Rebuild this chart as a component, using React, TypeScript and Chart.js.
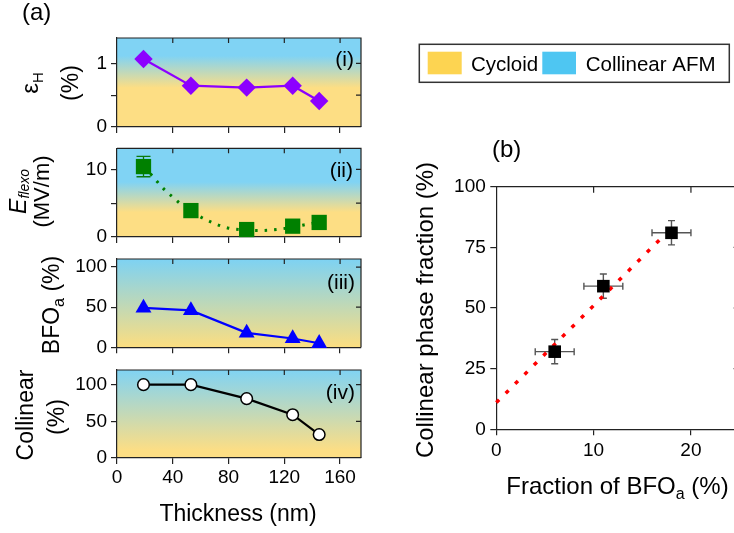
import React, { useEffect, useRef } from 'react';
import { Chart, registerables } from 'chart.js';

Chart.register(...registerables);

const FONT = "'Liberation Sans', Arial, Helvetica, sans-serif";
const CW = 760;
const CH = 533;

// ---------------- data ----------------
const thicknessNm = [19, 53, 93, 126, 145];
const strainH = [1.07, 0.65, 0.62, 0.65, 0.41];
const eFlexo = [10.4, 3.9, 1.1, 1.6, 2.15];
const eFlexoErr = [1.5, 0, 0, 0, 0];
const bfoAPercent = [49, 46, 18, 11, 5];
const collinearPercent = [100, 100, 81, 59, 32];

// dotted guide curve in panel (ii)
const fitThicknessNm = [19, 25, 30, 35, 40, 45, 55, 61, 68, 74, 80, 90, 100, 108, 115, 125, 134, 145];
const fitEFlexo = [10.3, 9.1, 7.9, 6.8, 5.9, 5.0, 3.6, 2.85, 2.15, 1.67, 1.3, 1.05, 0.95, 1.0, 1.13, 1.4, 1.77, 2.2];

// panel (b)
const bfoAFraction = [6, 11, 18];
const bfoAFractionErr = [2, 2, 2];
const collinearPhase = [32, 59, 81];
const collinearPhaseErr = [5, 5, 5];
const trendBfoA = [0, 17];
const trendCollinear = [11, 79];

// ticks
const thicknessTicks = [0, 40, 80, 120, 160];
const thicknessTickLabels = ['0', '40', '80', '120', '160'];
const strainTicks = [0, 0.5, 1];
const strainTickLabels = ['0', '', '1'];
const flexoTicks = [0, 5, 10];
const flexoTickLabels = ['0', '', '10'];
const percentTicks = [0, 50, 100];
const percentTickLabels = ['0', '50', '100'];
const bfoAxisTicks = [0, 10, 20];
const bfoAxisTickLabels = ['0', '10', '20'];
const phaseTicks = [0, 25, 50, 75, 100];
const phaseTickLabels = ['0', '25', '50', '75', '100'];

// ---------------- styles ----------------
const BLUE_BG = '#80D3F4';
const YELLOW_BG = '#FDDE84';
const AXIS = '#222';
const TEXT = '#000';

type Part = { t: string; size: number; italic?: boolean; dy?: number };
type Item =
  | { kind: 'text'; x: number; y: number; rot?: number; align?: 'left' | 'center' | 'right'; parts: Part[] }
  | { kind: 'rect'; x: number; y: number; w: number; h: number; fill?: string; stroke?: string; lw?: number };

function annotPlugin(items: Item[]) {
  return {
    id: 'annot',
    afterDraw(chart: any) {
      const ctx: CanvasRenderingContext2D = chart.ctx;
      for (const it of items) {
        ctx.save();
        if (it.kind === 'rect') {
          if (it.fill) {
            ctx.fillStyle = it.fill;
            ctx.fillRect(it.x, it.y, it.w, it.h);
          }
          if (it.stroke) {
            ctx.strokeStyle = it.stroke;
            ctx.lineWidth = it.lw || 1;
            ctx.strokeRect(it.x, it.y, it.w, it.h);
          }
        } else {
          ctx.translate(it.x, it.y);
          if (it.rot) ctx.rotate((it.rot * Math.PI) / 180);
          ctx.fillStyle = TEXT;
          ctx.textBaseline = 'alphabetic';
          ctx.textAlign = 'left';
          const fontOf = (p: Part) => `${p.italic ? 'italic ' : ''}${p.size}px ${FONT}`;
          let total = 0;
          for (const p of it.parts) {
            ctx.font = fontOf(p);
            total += ctx.measureText(p.t).width;
          }
          let x0 = it.align === 'center' ? -total / 2 : it.align === 'right' ? -total : 0;
          for (const p of it.parts) {
            ctx.font = fontOf(p);
            ctx.fillText(p.t, x0, p.dy || 0);
            x0 += ctx.measureText(p.t).width;
          }
        }
        ctx.restore();
      }
    },
  };
}

function bgPlugin(stops: [number, string][] | null) {
  return {
    id: 'bgGrad',
    beforeDraw(chart: any) {
      if (!stops) return;
      const { ctx, chartArea: a } = chart;
      const g = ctx.createLinearGradient(0, a.top, 0, a.bottom);
      stops.forEach(([o, c]) => g.addColorStop(o, c));
      ctx.save();
      ctx.fillStyle = g;
      ctx.fillRect(a.left, a.top, a.right - a.left, a.bottom - a.top);
      ctx.restore();
    },
  };
}

function framePlugin(len: number) {
  return {
    id: 'frame',
    afterDraw(chart: any) {
      const { ctx, chartArea: a, scales } = chart;
      ctx.save();
      ctx.strokeStyle = AXIS;
      ctx.lineWidth = 1.2;
      ctx.beginPath();
      ctx.moveTo(a.left, a.top);
      ctx.lineTo(a.right, a.top);
      ctx.lineTo(a.right, a.bottom);
      for (const t of scales.x.ticks) {
        const px = scales.x.getPixelForValue(t.value);
        if (px <= a.left + 1 || px >= a.right - 1) continue;
        ctx.moveTo(px, a.top);
        ctx.lineTo(px, a.top + len);
      }
      for (const t of scales.y.ticks) {
        const py = scales.y.getPixelForValue(t.value);
        if (py <= a.top + 1 || py >= a.bottom - 1) continue;
        ctx.moveTo(a.right, py);
        ctx.lineTo(a.right - len, py);
      }
      ctx.stroke();
      ctx.restore();
    },
  };
}

function errorBarPlugin() {
  return {
    id: 'errbars',
    beforeDatasetsDraw(chart: any) {
      const { ctx, scales } = chart;
      const xs = scales.x;
      const ys = scales.y;
      chart.data.datasets.forEach((ds: any) => {
        if (!ds.errY && !ds.errX) return;
        const cap = ds.errCap || 4;
        ctx.save();
        ctx.strokeStyle = ds.errColor || '#000';
        ctx.lineWidth = ds.errWidth || 1.2;
        ctx.beginPath();
        ds.data.forEach((p: any, i: number) => {
          const px = xs.getPixelForValue(p.x);
          const py = ys.getPixelForValue(p.y);
          const ey = ds.errY ? ds.errY[i] : 0;
          if (ey) {
            const y1 = ys.getPixelForValue(p.y + ey);
            const y2 = ys.getPixelForValue(p.y - ey);
            ctx.moveTo(px, y1); ctx.lineTo(px, y2);
            ctx.moveTo(px - cap, y1); ctx.lineTo(px + cap, y1);
            ctx.moveTo(px - cap, y2); ctx.lineTo(px + cap, y2);
          }
          const ex = ds.errX ? ds.errX[i] : 0;
          if (ex) {
            const x1 = xs.getPixelForValue(p.x - ex);
            const x2 = xs.getPixelForValue(p.x + ex);
            ctx.moveTo(x1, py); ctx.lineTo(x2, py);
            ctx.moveTo(x1, py - cap); ctx.lineTo(x1, py + cap);
            ctx.moveTo(x2, py - cap); ctx.lineTo(x2, py + cap);
          }
        });
        ctx.stroke();
        ctx.restore();
      });
    },
  };
}

const tickFont = { family: FONT, size: 19 };
const gridOpts = { display: true, drawOnChartArea: false, drawTicks: true, tickLength: 6, color: AXIS, lineWidth: 1.2 };
const borderOpts = { display: true, color: AXIS, width: 1.2 };

function pts(xs: number[], ys: number[]) {
  return xs.map((x, i) => ({ x, y: ys[i] }));
}

function axis(min: number, max: number, tickVals: number[], tickLabels: string[], show: boolean, pad: number, fit: (s: any) => void) {
  return {
    type: 'linear',
    min,
    max,
    afterBuildTicks: (s: any) => {
      s.ticks = tickVals.map((v) => ({ value: v }));
    },
    ticks: {
      display: show,
      callback: (_v: any, i: number) => tickLabels[i],
      font: tickFont,
      color: TEXT,
      padding: pad,
      maxRotation: 0,
      autoSkip: false,
    },
    grid: gridOpts,
    border: borderOpts,
    afterFit: fit,
  };
}

type PanelA = {
  top: number;
  bottom: number;
  ymax: number;
  yTicks: number[];
  yLabels: string[];
  showX: boolean;
  xh: number;
  stops: [number, string][];
  datasets: any[];
  texts: Item[];
};

const A_LEFT = 117;
const A_RIGHT = 361;

function panelAConfig(p: PanelA) {
  return {
    type: 'line',
    data: { datasets: p.datasets },
    options: {
      responsive: false,
      animation: false,
      devicePixelRatio: 1,
      events: [],
      layout: { padding: { left: 0, top: p.top, right: CW - A_RIGHT, bottom: CH - p.bottom - p.xh } },
      plugins: { legend: { display: false }, tooltip: { enabled: false } },
      scales: {
        x: axis(0, 175, thicknessTicks, thicknessTickLabels, p.showX, 2.5, (s: any) => { s.height = p.xh; }),
        y: axis(0, p.ymax, p.yTicks, p.yLabels, true, 4, (s: any) => { s.width = A_LEFT; }),
      },
    },
    plugins: [bgPlugin(p.stops), errorBarPlugin(), framePlugin(5), annotPlugin(p.texts)],
  };
}

const lineBase = { tension: 0, clip: false, showLine: true, pointHoverRadius: 0 };

function buildConfigs() {
  const c1 = panelAConfig({
    top: 38, bottom: 127, ymax: 1.4, yTicks: strainTicks, yLabels: strainTickLabels, showX: false, xh: 10,
    stops: [[0, BLUE_BG], [0.2, BLUE_BG], [0.56, YELLOW_BG], [1, YELLOW_BG]],
    datasets: [{
      ...lineBase,
      data: pts(thicknessNm, strainH),
      borderColor: '#8C00FF', backgroundColor: '#8C00FF', borderWidth: 2.2,
      pointStyle: 'rectRot', pointRadius: 9.2, pointBorderWidth: 0,
    }],
    texts: [
      { kind: 'text', x: 22, y: 20, parts: [{ t: '(a)', size: 24 }] },
      { kind: 'text', x: 354, y: 66, align: 'right', parts: [{ t: '(i)', size: 21 }] },
      { kind: 'text', x: 38, y: 83, rot: -90, align: 'center', parts: [{ t: 'ε', size: 24 }, { t: 'H', size: 15, dy: 5 }] },
      { kind: 'text', x: 78, y: 83, rot: -90, align: 'center', parts: [{ t: '(%)', size: 23 }] },
    ],
  });

  const c2 = panelAConfig({
    top: 148.3, bottom: 237, ymax: 13.1, yTicks: flexoTicks, yLabels: flexoTickLabels, showX: false, xh: 10,
    stops: [[0, BLUE_BG], [0.38, BLUE_BG], [0.72, YELLOW_BG], [1, YELLOW_BG]],
    datasets: [
      {
        ...lineBase,
        showLine: false,
        data: pts(thicknessNm, eFlexo),
        errY: eFlexoErr, errColor: '#0A7A0A', errWidth: 1.3, errCap: 7,
        borderColor: '#008000', backgroundColor: '#008000', borderWidth: 0,
        pointStyle: 'rect', pointRadius: 10.8, pointBorderWidth: 0,
      },
      {
        ...lineBase,
        data: pts(fitThicknessNm, fitEFlexo),
        borderColor: '#008000', borderWidth: 3, borderDash: [2.5, 7],
        cubicInterpolationMode: 'monotone', pointRadius: 0,
      },
    ],
    texts: [
      { kind: 'text', x: 353, y: 177, align: 'right', parts: [{ t: '(ii)', size: 21 }] },
      { kind: 'text', x: 25.5, y: 191.5, rot: -90, align: 'center', parts: [{ t: 'E', size: 23, italic: true }, { t: 'flexo', size: 14, italic: true, dy: 3.5 }] },
      { kind: 'text', x: 49, y: 191.5, rot: -90, align: 'center', parts: [{ t: '(MV/m)', size: 22 }] },
    ],
  });

  const c3 = panelAConfig({
    top: 259, bottom: 347.3, ymax: 110, yTicks: percentTicks, yLabels: percentTickLabels, showX: false, xh: 10,
    stops: [[0, '#7DD2F3'], [1, '#FCDE80']],
    datasets: [{
      ...lineBase,
      data: pts(thicknessNm, bfoAPercent),
      borderColor: '#0000FF', backgroundColor: '#0000FF', borderWidth: 2.2,
      pointStyle: 'triangle', pointRadius: 9.2, pointBorderWidth: 0,
    }],
    texts: [
      { kind: 'text', x: 355, y: 289, align: 'right', parts: [{ t: '(iii)', size: 21 }] },
      { kind: 'text', x: 58.5, y: 305, rot: -90, align: 'center', parts: [{ t: 'BFO', size: 23 }, { t: 'a', size: 16, dy: 5 }, { t: ' (%)', size: 23 }] },
    ],
  });

  const c4 = panelAConfig({
    top: 370, bottom: 458, ymax: 120, yTicks: percentTicks, yLabels: percentTickLabels, showX: true, xh: 40,
    stops: [[0, BLUE_BG], [0.92, YELLOW_BG], [1, YELLOW_BG]],
    datasets: [{
      ...lineBase,
      data: pts(thicknessNm, collinearPercent),
      borderColor: '#000', backgroundColor: '#fff', borderWidth: 2.2,
      pointStyle: 'circle', pointRadius: 5.8, pointBorderWidth: 1.5, pointBorderColor: '#000', pointBackgroundColor: '#fff',
    }],
    texts: [
      { kind: 'text', x: 355, y: 399, align: 'right', parts: [{ t: '(iv)', size: 21 }] },
      { kind: 'text', x: 33, y: 415, rot: -90, align: 'center', parts: [{ t: 'Collinear', size: 23 }] },
      { kind: 'text', x: 63.5, y: 417, rot: -90, align: 'center', parts: [{ t: '(%)', size: 23 }] },
      { kind: 'text', x: 238, y: 521, align: 'center', parts: [{ t: 'Thickness (nm)', size: 23 }] },
    ],
  });

  const B_LEFT = 496.3;
  const B_RIGHT = 739.6;
  const B_TOP = 186.7;
  const B_BOTTOM = 429.3;
  const B_XH = 44;
  const c5 = {
    type: 'line',
    data: {
      datasets: [
        {
          ...lineBase,
          showLine: false,
          data: pts(bfoAFraction, collinearPhase),
          errX: bfoAFractionErr, errY: collinearPhaseErr, errColor: '#555', errWidth: 1.4, errCap: 3.5,
          borderColor: '#000', backgroundColor: '#000', borderWidth: 0,
          pointStyle: 'rect', pointRadius: 8.9, pointBorderWidth: 0,
        },
        {
          ...lineBase,
          data: pts(trendBfoA, trendCollinear),
          borderColor: '#FF0000', borderWidth: 3.5, borderDash: [4, 9.3], pointRadius: 0,
        },
      ],
    },
    options: {
      responsive: false,
      animation: false,
      devicePixelRatio: 1,
      events: [],
      layout: { padding: { left: 380, top: B_TOP, right: CW - B_RIGHT, bottom: CH - B_BOTTOM - B_XH } },
      plugins: { legend: { display: false }, tooltip: { enabled: false } },
      scales: {
        x: axis(0, 25, bfoAxisTicks, bfoAxisTickLabels, true, 4.5, (s: any) => { s.height = B_XH; }),
        y: axis(0, 100, phaseTicks, phaseTickLabels, true, 4.5, (s: any) => { s.width = B_LEFT - 380; }),
      },
    },
    plugins: [
      errorBarPlugin(),
      framePlugin(6),
      annotPlugin([
        { kind: 'rect', x: 419.3, y: 44.3, w: 310, h: 38, fill: '#fff', stroke: '#333', lw: 1.5 },
        { kind: 'rect', x: 427.7, y: 51.7, w: 34, h: 22.6, fill: '#FDD451' },
        { kind: 'rect', x: 542.3, y: 51.7, w: 33.7, h: 22.6, fill: '#4EC6F2' },
        { kind: 'text', x: 471, y: 70.5, parts: [{ t: 'Cycloid', size: 20.5 }] },
        { kind: 'text', x: 585.7, y: 70.5, parts: [{ t: 'Collinear AFM', size: 20.5 }] },
        { kind: 'text', x: 492, y: 157, parts: [{ t: '(b)', size: 24 }] },
        { kind: 'text', x: 433, y: 310, rot: -90, align: 'center', parts: [{ t: 'Collinear phase fraction (%)', size: 24 }] },
        { kind: 'text', x: 617.5, y: 494, align: 'center', parts: [{ t: 'Fraction of BFO', size: 24 }, { t: 'a', size: 16, dy: 5 }, { t: ' (%)', size: 24 }] },
      ]),
    ],
  };

  return [c1, c2, c3, c4, c5];
}

export default function App() {
  const refs = [useRef<HTMLCanvasElement>(null), useRef<HTMLCanvasElement>(null), useRef<HTMLCanvasElement>(null), useRef<HTMLCanvasElement>(null), useRef<HTMLCanvasElement>(null)];

  useEffect(() => {
    const configs = buildConfigs();
    const charts: Chart[] = [];
    configs.forEach((cfg, i) => {
      const el = refs[i].current;
      if (el) charts.push(new Chart(el, cfg as any));
    });
    return () => charts.forEach((c) => c.destroy());
  }, []);

  return (
    <div style={{ position: 'fixed', left: 0, top: 0, width: 734, height: 533, overflow: 'hidden', background: '#fff' }}>
      {refs.map((r, i) => (
        <canvas
          key={i}
          ref={r}
          width={CW}
          height={CH}
          style={{ position: 'absolute', left: 0, top: 0, width: CW, height: CH }}
        />
      ))}
    </div>
  );
}
